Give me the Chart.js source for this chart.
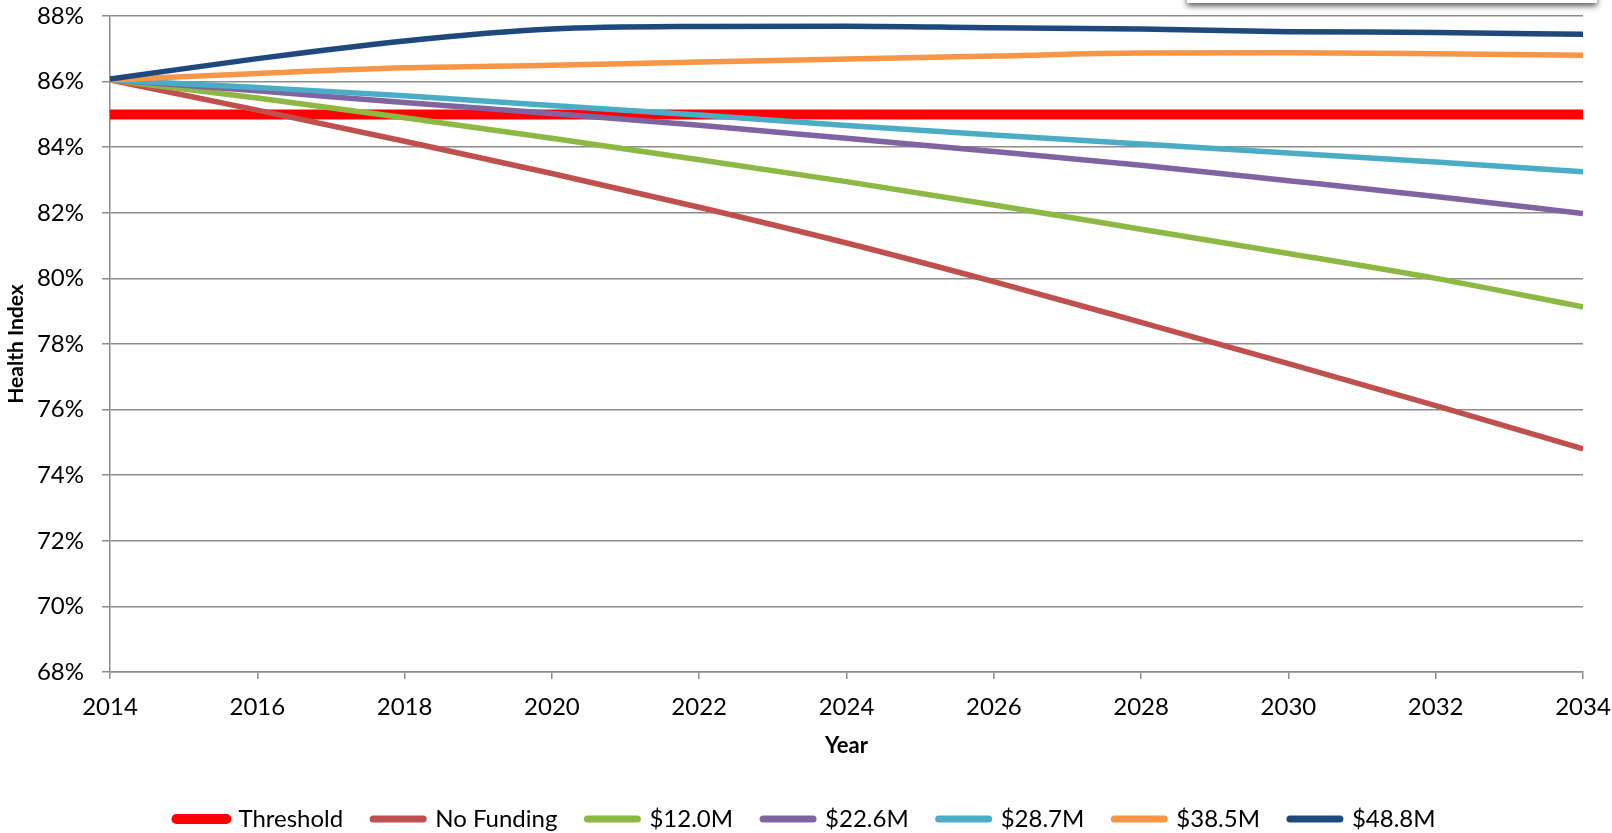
<!DOCTYPE html>
<html>
<head>
<meta charset="utf-8">
<title>Health Index</title>
<script src="https://cdn.jsdelivr.net/npm/chart.js@4/dist/chart.umd.min.js"></script>
<style>
  body { margin: 0; background: #fff; overflow: hidden; }
  #wrap { position: relative; width: 1612px; height: 833px; }
  /* shadowed box peeking in at the top right */
  #topBox {
    position: absolute; left: 1187px; top: -20px; width: 410px; height: 23px;
    background: #fff; box-shadow: 0 3px 6px rgba(0,0,0,0.65);
  }
</style>
</head>
<body>
<div id="wrap">
  <canvas id="chart" width="1612" height="833"></canvas>
  <div id="topBox"></div>
</div>
<script>
// Data
const years = [2014, 2016, 2018, 2020, 2022, 2024, 2026, 2028, 2030, 2032, 2034];
const threshold = [85, 85, 85, 85, 85, 85, 85, 85, 85, 85, 85];
const noFunding = [86.05, 85.13, 84.18, 83.2, 82.17, 81.08, 79.9, 78.66, 77.4, 76.12, 74.8];
const fund12 = [86.05, 85.5, 84.9, 84.27, 83.62, 82.95, 82.24, 81.5, 80.76, 80.0, 79.13];
const fund22 = [86.05, 85.72, 85.36, 85.03, 84.67, 84.27, 83.87, 83.45, 82.98, 82.5, 81.98];
const fund28 = [86.05, 85.82, 85.57, 85.27, 84.98, 84.66, 84.37, 84.1, 83.82, 83.55, 83.25];
const fund38 = [86.05, 86.25, 86.42, 86.5, 86.6, 86.69, 86.78, 86.87, 86.88, 86.85, 86.8];
const fund48 = [86.08, 86.7, 87.24, 87.6, 87.68, 87.69, 87.64, 87.6, 87.52, 87.5, 87.44];

const seriesNames = ["Threshold", "No Funding", "$12.0M", "$22.6M", "$28.7M", "$38.5M", "$48.8M"];
const seriesColors = ["#FF0000", "#C0504D", "#8DB843", "#8064A2", "#4BACC6", "#F79646", "#1F497D"];
const seriesData = [threshold, noFunding, fund12, fund22, fund28, fund38, fund48];

const font = "Lato, 'Open Sans', sans-serif";
const gridGray = "#8c8c8c";

// build datasets as x/y points
const datasets = seriesData.map((vals, i) => ({
  label: seriesNames[i],
  data: vals.map((v, j) => ({ x: years[j], y: v })),
  borderColor: seriesColors[i],
  backgroundColor: seriesColors[i],
  borderWidth: i === 0 ? 10 : 5.5,
  pointRadius: 0,
  pointStyle: "line",
  cubicInterpolationMode: "monotone",
  fill: false,
  order: seriesData.length - i, // blue drawn last, on top
}));

// legend samples: rounded, a bit thicker than the plotted lines
function legendLabels(chart) {
  const items = Chart.defaults.plugins.legend.labels.generateLabels(chart);
  return items
    .sort((a, b) => a.datasetIndex - b.datasetIndex)
    .map((item) => ({
      ...item,
      lineWidth: item.datasetIndex === 0 ? 10 : 7,
      lineCap: "round",
    }));
}

// nudge the legend down a little
const legendNudge = {
  id: "legendNudge",
  afterLayout(chart) {
    const lg = chart.legend;
    if (lg) { lg.top += 8; lg.bottom += 8; }
  },
};

const ctx = document.getElementById("chart").getContext("2d");
new Chart(ctx, {
  type: "line",
  data: { datasets },
  plugins: [legendNudge],
  options: {
    responsive: false,
    animation: false,
    layout: { padding: 0 },
    plugins: {
      legend: {
        position: "bottom",
        labels: {
          usePointStyle: true,
          pointStyleWidth: 50,
          boxHeight: 6,
          padding: 30,
          color: "#000",
          font: { family: font, size: 24 },
          generateLabels: legendLabels,
        },
      },
      tooltip: { enabled: false },
    },
    scales: {
      x: {
        type: "linear",
        min: 2014,
        max: 2034,
        ticks: {
          stepSize: 2,
          color: "#000",
          padding: 14,
          maxRotation: 0,
          font: { family: font, size: 24 },
          callback: (v) => String(v),
        },
        grid: { drawOnChartArea: false, color: gridGray, lineWidth: 1.5, tickLength: 7 },
        border: { color: gridGray, width: 1.5 },
        title: {
          display: true,
          text: "Year",
          color: "#000",
          font: { family: font, size: 22, weight: "bold" },
          padding: { top: 8, bottom: 10 },
        },
        afterFit: (scale) => {
          scale.height = 97;
          scale.paddingRight = 29;
        },
      },
      y: {
        min: 68,
        max: 88,
        ticks: {
          stepSize: 2,
          color: "#000",
          padding: 18,
          font: { family: font, size: 24 },
          callback: (v) => v + "%",
        },
        grid: { color: gridGray, lineWidth: 1.5, tickLength: 8 },
        border: { color: gridGray, width: 1.5 },
        title: {
          display: true,
          text: "Health Index",
          color: "#000",
          font: { family: font, size: 21, weight: "bold" },
          padding: { top: 4, bottom: 4 },
        },
        afterFit: (scale) => {
          scale.width = 110;
          scale.paddingTop = 16;
        },
      },
    },
  },
});
</script>
</body>
</html>
